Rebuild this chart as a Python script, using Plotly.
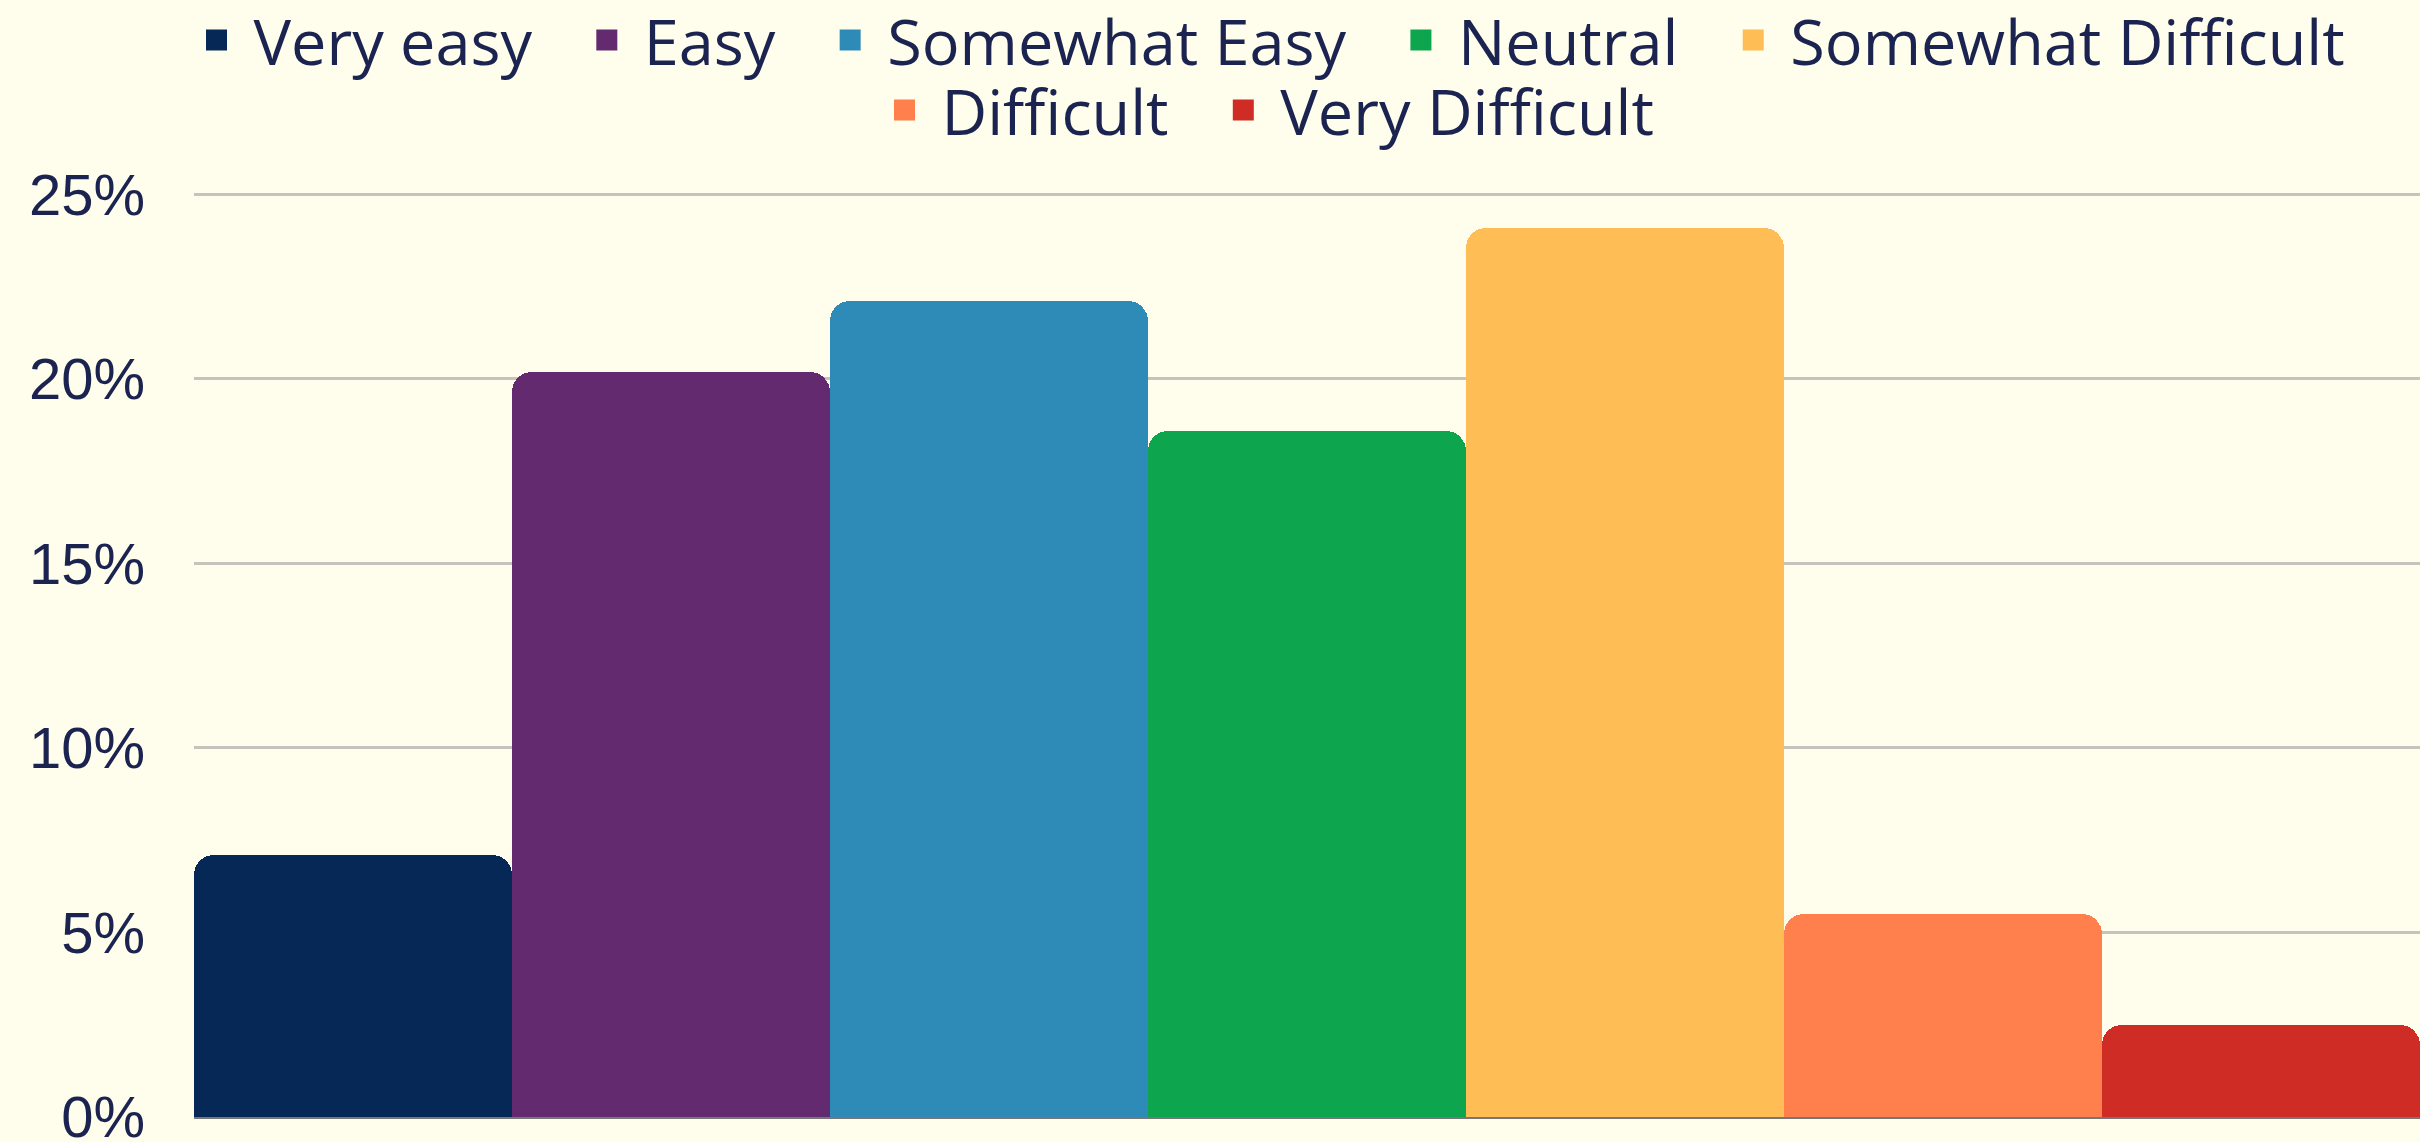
import plotly.graph_objects as go

categories = ["Very easy", "Easy", "Somewhat Easy", "Neutral",
              "Somewhat Difficult", "Difficult", "Very Difficult"]
values = [7.1, 20.2, 22.1, 18.6, 24.1, 5.5, 2.5]
colors = ["#052856", "#642a6f", "#2e8bb8", "#0da64e",
          "#ffbe55", "#ff804c", "#cf2c26"]
tick_vals = [0, 5, 10, 15, 20, 25]
tick_text = ["0%", "5%", "10%", "15%", "20%", "25%"]

BG = "#fffdeb"
TXT = "#1b2350"
LEG_FONT = "Open Sans"
TICK_FONT = "Liberation Sans"
PAD = "\u00a0\u00a0"

fig = go.Figure()
fig.add_trace(go.Bar(
    x=categories, y=values,
    marker=dict(color=colors, cornerradius=20, line=dict(width=0)),
    showlegend=False,
))

for i, (c, col) in enumerate(zip(categories, colors)):
    fig.add_trace(go.Scatter(
        x=[None], y=[None], mode="markers", name=c + PAD,
        marker=dict(symbol="square", size=16, color=col, line=dict(width=5, color=col)),
        legend="legend" if i < 5 else "legend2",
    ))

legend_common = dict(
    orientation="h", xref="container", yref="container",
    xanchor="center", yanchor="middle",
    font=dict(family=LEG_FONT, size=63, color=TXT),
    bgcolor="rgba(0,0,0,0)", itemwidth=64, itemclick=False,
)

fig.update_layout(
    width=2420, height=1142,
    paper_bgcolor=BG, plot_bgcolor=BG,
    margin=dict(l=194, r=0, t=176, b=25, autoexpand=False),
    bargap=0,
    font=dict(family=LEG_FONT, color=TXT),
    legend=dict(x=1281 / 2420, y=1 - 40 / 1142, **legend_common),
    legend2=dict(x=1280 / 2420, y=1 - 110 / 1142, **legend_common),
    xaxis=dict(type="category", showticklabels=False, showgrid=False,
               showline=True, linecolor="#777777", linewidth=2,
               range=[-0.5, 6.5], zeroline=False, fixedrange=True,
               automargin=False),
    yaxis=dict(range=[0, 25.5], tickvals=tick_vals, ticktext=tick_text,
               showgrid=True, gridcolor="#c4c4bc", gridwidth=3,
               zeroline=False, ticklabelstandoff=48, automargin=False,
               ticklabeloverflow="allow", fixedrange=True,
               tickfont=dict(family=TICK_FONT, size=58, color=TXT)),
)

fig.write_html(
    "out.html",
    config={"displayModeBar": False, "staticPlot": False},
    post_script="document.body.style.margin='0';document.body.style.overflow='hidden';",
)
